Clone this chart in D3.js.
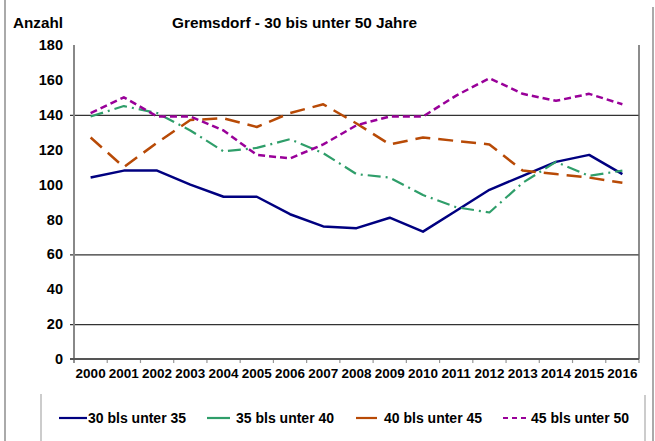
<!DOCTYPE html>
<html><head><meta charset="utf-8">
<script src="https://cdn.jsdelivr.net/npm/d3@7"></script>
<style>body{margin:0;background:#fff}svg{display:block}text{font-family:"Liberation Sans",Arial,sans-serif;font-weight:bold;fill:#000}</style>
</head><body><svg id="c" width="655" height="441"></svg>
<script>
const years = ["2000","2001","2002","2003","2004","2005","2006","2007","2008","2009","2010","2011","2012","2013","2014","2015","2016"];
const s30 = [104,108,108,100,93,93,83,76,75,81,73,85,97,105,113,117,106];
const s35 = [139,145,141,131,119,121,126,118,106,104,94,87,84,101,113,105,108];
const s40 = [127,110,124,137,138,133,141,146,135,123,127,125,123,108,106,104,101];
const s45 = [141,150,139,139,131,117,115,123,134,139,139,151,161,152,148,152,146];
const seriesNames = ["30 bls unter 35","35 bls unter 40","40 bls unter 45","45 bls unter 50"];
const yTicks = [0,20,40,60,80,100,120,140,160,180];
const gridValues = [20,60,140];
const title = "Gremsdorf - 30 bis unter 50 Jahre";
const yTitle = "Anzahl";

const svg = d3.select("#c");
const L = 74, R = 639, T = 45, B = 359;
const x = d3.scaleBand().domain(years).range([L, R]);
const y = d3.scaleLinear().domain([0,180]).range([B, T]);
const cx = d => x(d) + x.bandwidth()/2;

// outer frame
svg.append("line").attr("x1",5).attr("x2",5).attr("y1",0).attr("y2",441).attr("stroke","#aaa").attr("stroke-width",2);
svg.append("line").attr("x1",653).attr("x2",653).attr("y1",7).attr("y2",441).attr("stroke","#aaa").attr("stroke-width",2);
// legend box sides
svg.append("line").attr("x1",41).attr("x2",41).attr("y1",394).attr("y2",441).attr("stroke","#bbb").attr("stroke-width",1.5);
svg.append("line").attr("x1",645).attr("x2",645).attr("y1",395).attr("y2",441).attr("stroke","#bbb").attr("stroke-width",1.5);

// gridlines
svg.selectAll(".g").data(gridValues).enter().append("line")
  .attr("x1",70).attr("x2",R).attr("y1",d=>y(d)+0.5).attr("y2",d=>y(d)+0.5)
  .attr("stroke","#333").attr("stroke-width",1.2);

// y axis
const yAx = svg.append("g").attr("transform",`translate(${L},0)`)
  .call(d3.axisLeft(y).tickValues(yTicks).tickSize(0).tickPadding(11));
yAx.select(".domain").remove();
yAx.selectAll("text").style("font-size","14.5px").attr("font-family",null);
svg.append("line").attr("x1",L).attr("x2",L).attr("y1",T).attr("y2",B+4).attr("stroke","#888").attr("stroke-width",2);
svg.append("line").attr("x1",R).attr("x2",R).attr("y1",T).attr("y2",B).attr("stroke","#666").attr("stroke-width",1.5);

// x axis
const xAx = svg.append("g").attr("transform",`translate(0,${B})`)
  .call(d3.axisBottom(x).tickSize(0).tickPadding(9));
xAx.select(".domain").remove();
xAx.selectAll("text").style("font-size","13.5px").attr("font-family",null);
svg.selectAll(".xt").data(years.concat(["end"])).enter().append("line")
  .attr("x1",(d,i)=> i<years.length ? x(d) : R).attr("x2",(d,i)=> i<years.length ? x(d) : R)
  .attr("y1",B).attr("y2",B+4).attr("stroke","#999").attr("stroke-width",1.2);
svg.append("line").attr("x1",70).attr("x2",R).attr("y1",B).attr("y2",B).attr("stroke","#555").attr("stroke-width",2);

// series
const styles = [
  {data:s30, color:"#000080", dash:null, w:2.5},
  {data:s35, color:"#2f9e6a", dash:"13,5,2,5", w:2.2},
  {data:s40, color:"#b84a06", dash:"15,8", w:2.5},
  {data:s45, color:"#990099", dash:"7,4", w:2.5}
];
const line = d3.line().x((d,i)=>cx(years[i])).y(d=>y(d));
styles.forEach(s=>{
  svg.append("path").datum(s.data).attr("d",line).attr("fill","none")
    .attr("stroke",s.color).attr("stroke-width",s.w).attr("stroke-dasharray",s.dash)
    .attr("stroke-linejoin","round");
});

// titles
svg.append("text").attr("x",13).attr("y",27.5).style("font-size","15px")
  .attr("textLength",50).attr("lengthAdjust","spacingAndGlyphs").text(yTitle);
svg.append("text").attr("x",172).attr("y",27.5).style("font-size","15.5px")
  .attr("textLength",245).attr("lengthAdjust","spacingAndGlyphs").text(title);

// legend
const legendItems = [
  {x1:59,x2:87,tx:88},
  {x1:207,x2:230,tx:236},
  {x1:356,x2:377,tx:384},
  {x1:503,x2:529,tx:531}
];
const lg = svg.append("g");
legendItems.forEach((it,i)=>{
  lg.append("line").attr("x1",it.x1).attr("x2",it.x2).attr("y1",418).attr("y2",418)
    .attr("stroke",styles[i].color).attr("stroke-width",2.2)
    .attr("stroke-dasharray", i===3 ? "5,4" : null);
  lg.append("text").attr("x",it.tx).attr("y",422.5).style("font-size","14px").text(seriesNames[i]);
});
</script></body></html>
